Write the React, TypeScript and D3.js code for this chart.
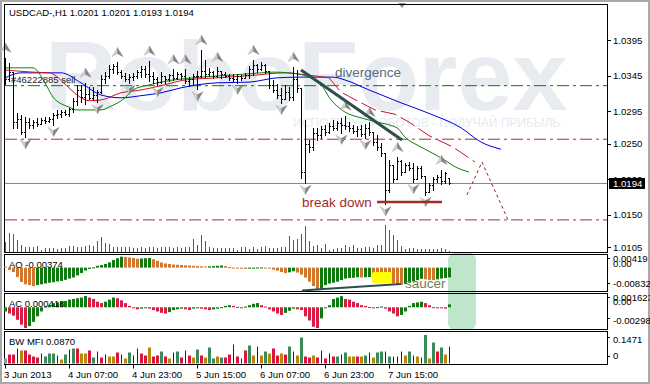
import React from "react";
import * as d3 from "d3";

const FONT = "'Liberation Sans', Arial, sans-serif";

// ---------- price bars (H1, USDCAD) ----------
const opens = [1.0360,1.0340,1.0350,1.0280,1.0285,1.0266,1.0280,1.0276,1.0280,1.0278,
1.0283,1.0281,1.0285,1.0290,1.0292,1.0294,1.0292,1.0298,1.0310,1.0325,
1.0315,1.0320,1.0314,1.0318,1.0322,1.0340,1.0345,1.0355,1.0358,1.0350,
1.0345,1.0340,1.0343,1.0345,1.0350,1.0355,1.0348,1.0345,1.0340,1.0336,
1.0345,1.0340,1.0346,1.0342,1.0348,1.0345,1.0338,1.0340,1.0345,1.0345,
1.0352,1.0348,1.0350,1.0345,1.0352,1.0348,1.0345,1.0342,1.0340,1.0344,
1.0342,1.0346,1.0355,1.0360,1.0355,1.0360,1.0352,1.0332,1.0325,1.0318,
1.0312,1.0322,1.0315,1.0340,1.0328,1.0210,1.0250,1.0245,1.0265,1.0262,
1.0270,1.0266,1.0275,1.0272,1.0279,1.0276,1.0274,1.0272,1.0268,1.0270,
1.0264,1.0272,1.0266,1.0252,1.0245,1.0236,1.0185,1.0220,1.0200,1.0225,
1.0210,1.0220,1.0215,1.0200,1.0215,1.0205,1.0182,1.0192,1.0200,1.0203,
1.0198,1.0201];
const highs = [1.0370,1.0363,1.0350,1.0293,1.0290,1.0287,1.0286,1.0283,1.0286,1.0286,
1.0287,1.0287,1.0293,1.0297,1.0297,1.0297,1.0300,1.0314,1.0332,1.0332,
1.0335,1.0329,1.0329,1.0325,1.0346,1.0350,1.0360,1.0361,1.0364,1.0353,
1.0349,1.0347,1.0349,1.0353,1.0358,1.0358,1.0366,1.0350,1.0343,1.0350,
1.0345,1.0348,1.0354,1.0350,1.0349,1.0354,1.0343,1.0347,1.0352,1.0381,
1.0367,1.0356,1.0352,1.0357,1.0352,1.0350,1.0347,1.0347,1.0347,1.0346,
1.0349,1.0359,1.0367,1.0362,1.0364,1.0361,1.0352,1.0339,1.0333,1.0328,
1.0332,1.0329,1.0357,1.0353,1.0328,1.0283,1.0255,1.0272,1.0272,1.0275,
1.0276,1.0279,1.0283,1.0282,1.0286,1.0289,1.0280,1.0276,1.0275,1.0276,
1.0277,1.0280,1.0266,1.0262,1.0251,1.0236,1.0227,1.0220,1.0231,1.0227,
1.0223,1.0224,1.0223,1.0219,1.0219,1.0205,1.0195,1.0203,1.0206,1.0213,
1.0210,1.0201];
const lows = [1.0333,1.0338,1.0272,1.0272,1.0263,1.0259,1.0272,1.0272,1.0275,1.0277,
1.0279,1.0280,1.0276,1.0286,1.0287,1.0290,1.0289,1.0294,1.0304,1.0308,
1.0305,1.0312,1.0311,1.0308,1.0321,1.0335,1.0342,1.0349,1.0347,1.0342,
1.0338,1.0335,1.0339,1.0342,1.0343,1.0343,1.0338,1.0335,1.0332,1.0335,
1.0335,1.0338,1.0339,1.0340,1.0340,1.0335,1.0330,1.0334,1.0326,1.0343,
1.0343,1.0345,1.0342,1.0343,1.0342,1.0343,1.0339,1.0337,1.0335,1.0339,
1.0342,1.0342,1.0346,1.0350,1.0353,1.0349,1.0328,1.0322,1.0314,1.0307,
1.0312,1.0311,1.0311,1.0322,1.0202,1.0195,1.0238,1.0241,1.0255,1.0258,
1.0262,1.0265,1.0269,1.0269,1.0265,1.0270,1.0268,1.0265,1.0261,1.0261,
1.0258,1.0262,1.0248,1.0241,1.0233,1.0165,1.0182,1.0196,1.0200,1.0206,
1.0210,1.0213,1.0196,1.0200,1.0202,1.0178,1.0182,1.0185,1.0196,1.0193,
1.0195,1.0193];
const closes = [1.0340,1.0350,1.0280,1.0285,1.0266,1.0280,1.0276,1.0280,1.0278,1.0283,
1.0281,1.0285,1.0290,1.0292,1.0294,1.0292,1.0298,1.0310,1.0325,1.0315,
1.0320,1.0314,1.0318,1.0322,1.0340,1.0345,1.0355,1.0358,1.0350,1.0345,
1.0340,1.0343,1.0345,1.0350,1.0355,1.0348,1.0345,1.0340,1.0336,1.0345,
1.0340,1.0346,1.0342,1.0348,1.0345,1.0338,1.0340,1.0345,1.0345,1.0352,
1.0348,1.0350,1.0345,1.0352,1.0348,1.0345,1.0342,1.0340,1.0344,1.0342,
1.0346,1.0355,1.0360,1.0355,1.0360,1.0352,1.0332,1.0325,1.0318,1.0312,
1.0322,1.0315,1.0340,1.0328,1.0210,1.0250,1.0245,1.0265,1.0262,1.0270,
1.0266,1.0275,1.0272,1.0279,1.0276,1.0274,1.0272,1.0268,1.0270,1.0264,
1.0272,1.0266,1.0252,1.0245,1.0236,1.0185,1.0220,1.0200,1.0225,1.0210,
1.0220,1.0215,1.0200,1.0215,1.0205,1.0182,1.0192,1.0200,1.0203,1.0198,
1.0208,1.0194];
const volumes = [400,760,720,480,280,200,200,200,240,80,
160,160,160,120,160,160,240,240,200,200,
240,280,240,440,600,360,320,200,200,200,
200,200,160,180,200,160,200,200,180,200,
220,200,160,200,160,200,200,520,280,680,
440,200,160,160,160,160,160,160,80,200,
200,120,200,120,200,240,160,160,160,200,
200,640,480,520,720,1040,440,240,280,160,
320,80,120,160,160,280,200,280,160,160,
200,200,160,280,280,1080,880,680,480,240,
120,160,160,120,120,120,120,120,120,160,
120,40];

// ---------- indicators ----------
const aoValues = [0.0004,-0.0009,-0.0017,-0.0036,-0.0055,-0.0064,-0.0067,-0.0071,-0.0067,-0.0064,
-0.0061,-0.0058,-0.0056,-0.0053,-0.0051,-0.0047,-0.0042,-0.0038,-0.0030,-0.0021,
-0.0011,-0.0005,0.0001,0.0007,0.0010,0.0014,0.0020,0.0029,0.0036,0.00419,
0.0041,0.0039,0.0037,0.0034,0.0035,0.0036,0.0037,0.0032,0.0026,0.0020,
0.0016,0.0014,0.0012,0.0011,0.0010,0.0009,0.0008,0.0007,0.0006,0.0005,
0.0004,0.0005,0.0006,0.0007,0.0008,0.0006,0.0002,-0.0001,-0.0003,-0.0004,
-0.0005,-0.0004,-0.0002,0.00005,0.0001,-0.0001,-0.0004,-0.0008,-0.0012,-0.0017,
-0.0021,-0.0018,-0.0014,-0.0019,-0.0027,-0.0038,-0.0054,-0.0071,-0.00832,-0.0081,
-0.0067,-0.0061,-0.0058,-0.0054,-0.0048,-0.0042,-0.0040,-0.0039,-0.0037,-0.0038,
-0.0037,-0.0036,-0.0037,-0.0039,-0.0041,-0.0045,-0.0052,-0.0060,-0.0064,-0.0066,
-0.0063,-0.0058,-0.0053,-0.0048,-0.0043,-0.0045,-0.0047,-0.0048,-0.0045,-0.0042,
-0.0040,-0.00374];
const acValues = [-0.0006,-0.0009,-0.0012,-0.0018,-0.0025,-0.00298,-0.0027,-0.0021,-0.0013,-0.0006,
0.0001,0.0003,0.0006,0.0007,0.0008,0.0009,0.0011,0.0012,0.0013,0.0014,
0.001623,0.0014,0.0012,0.0008,0.0006,0.0008,0.0011,0.0014,0.0013,0.0010,
0.0006,0.0002,-0.0001,-0.0003,-0.0002,-0.0001,-0.0002,-0.0004,-0.0006,-0.0008,
-0.0009,-0.0007,-0.0004,-0.0003,-0.0002,-0.0003,-0.0004,-0.0002,-0.0001,-0.0002,
-0.0003,-0.0004,-0.0003,-0.0002,0.00002,0.0002,0.0003,0.0002,0.00005,-0.0001,
0.0001,0.0003,0.0005,0.0006,0.0003,0.0001,-0.0003,-0.0006,-0.0009,-0.0011,
-0.0008,-0.0005,-0.0002,-0.0003,-0.0004,-0.0013,-0.0019,-0.0028,-0.00298,-0.0016,
-0.0001,0.0003,0.0012,0.0014,0.0016,0.0012,0.0011,0.0008,0.0006,0.0003,
0.0002,0.00005,-0.0001,0.00002,0.0001,-0.0002,-0.0006,-0.0009,-0.0013,-0.0011,
-0.0006,0.0002,0.0006,0.0007,0.0008,0.0006,0.0003,0.00002,-0.0001,-0.00015,
-0.0002,0.000418];
const mfiValues = [0.0258,0.0464,0.0464,0.0774,0.0671,0.0671,0.0464,0.0361,0.0310,0.0516,
0.0361,0.0516,0.0516,0.0413,0.0206,0.0464,0.0722,0.0774,0.0774,0.0516,
0.0516,0.0671,0.0310,0.0619,0.0310,0.0464,0.0361,0.0361,0.0568,0.0464,
0.0258,0.0568,0.0413,0.0774,0.0516,0.0413,0.0826,0.0361,0.0413,0.0619,
0.0361,0.0258,0.0568,0.0619,0.0310,0.0671,0.0413,0.0310,0.0722,0.0413,
0.0310,0.0826,0.0258,0.0361,0.0310,0.0310,0.0464,0.0980,0.0361,0.0258,
0.0671,0.0929,0.0413,0.0877,0.0413,0.0619,0.0516,0.0774,0.0413,0.0516,
0.0464,0.0877,0.0619,0.0413,0.1342,0.0361,0.0310,0.0413,0.0310,0.0671,
0.0258,0.0516,0.0361,0.0361,0.0464,0.0568,0.0361,0.0361,0.0361,0.0361,
0.0413,0.0568,0.0310,0.0568,0.0619,0.0619,0.0361,0.0361,0.0361,0.0619,
0.0413,0.0619,0.0413,0.0361,0.0310,0.1471,0.0258,0.1084,0.0619,0.0826,
0.0464,0.0870];
// g = green, b = fade (brown), f = fake (blue), s = squat (pink), x = first bar
const mfiTypes = ("xssfbssssf" + "gggfbgfgsb" + "bsgfsfbbsf" + "bgffssbssg" + "sbfgsfsbgs" +
  "bggbgssfsf" + "sgbfbgbssb" + "sgfbgssbsf" + "sfsgfgbbsb" + "gfbggfgfff" + "bgfbfgbgsg" + "bf").split("");

// Alligator lines: [bar index, price]
const jawLine: [number, number][] = [[0,1.0342],[4,1.0349],[14,1.0349],[19,1.0335],[24,1.0318],[29,1.0314],[34,1.0317],[39,1.0321],[44,1.0328],[53,1.0335],[61,1.0336],[68,1.0342],[74,1.0343],[82,1.0343],[85,1.0339],[91,1.0325],[99,1.0307],[107,1.0290],[114,1.0272],[119,1.0252],[124,1.0242]];
const teethLine: [number, number][] = [[0,1.0353],[7,1.0350],[11,1.0349],[16,1.0328],[18,1.0318],[21,1.0310],[24,1.0311],[29,1.0321],[34,1.0325],[39,1.0331],[45,1.0339],[53,1.0342],[61,1.0345],[70,1.0349],[74,1.0347],[81,1.0342]];
const teethTail: [number, number][] = [[81,1.0342],[84,1.0322],[88,1.0310],[92.5,1.0297],[97.5,1.0291],[101,1.0280],[106,1.0261],[112,1.0245],[117.5,1.0224]];
const lipsLine: [number, number][] = [[0,1.0356],[7,1.0356],[10,1.0335],[12,1.0315],[16,1.0301],[18,1.0297],[24,1.0297],[26,1.0301],[30,1.0314],[32,1.0325],[36,1.0332],[39,1.0336],[49,1.0343],[57,1.0346],[64,1.0349],[67,1.0350],[71,1.0349],[76,1.0343],[79,1.0333],[81,1.0315],[85,1.0294],[89,1.0286],[93,1.0280],[98,1.0272],[100,1.0259],[104,1.0245],[109,1.0230],[113,1.0216],[116,1.0210]];

const fractalUp = [0,20,28,36,42,45,49,53,62,72,85,91,98,109];
const fractalDown = [5,12,23,31,38,48,58,69,75,84,90,95,102,105];

const priceTicks = [1.0395,1.0345,1.0295,1.0250,1.0200,1.0150,1.0105];
const timeTickBars = [0,16,32,48,64,80,96];
const timeTickLabels = ["3 Jun 2013","4 Jun 07:00","4 Jun 23:00","5 Jun 15:00","6 Jun 07:00","6 Jun 23:00","7 Jun 15:00"];
const aoAxisLabels = ["0.00419","0.00","-0.00832"];
const acAxisLabels = ["0.001623","0.00","-0.00298"];
const mfiAxisLabels = ["0.1471","0"];

const orderLevel = 1.0331;
const redLevels = [1.0256, 1.0143];
const lastPrice = 1.0194;
const trendLine: [number, number][] = [[74,1.0353],[99.25,1.0255]];
const projection: [number, number][] = [[115.5,1.0178],[119.25,1.0224],[125.75,1.0143]];
const breakLine: [number, number][] = [[93,1.0168],[109.25,1.0168]];
const saucerLine: [number, number][] = [[74.25,-0.00878],[78.75,-0.00832],[99,-0.00629]];
const saucerBox: [number, number][] = [[91.75,-0.00168],[96.75,-0.0059]];
const signalBox = [110.75, 117.75];

function Arrow({ cx, cy, up }: { cx: number; cy: number; up: boolean }) {
  const s = up ? 1 : -1;
  return (
    <g transform={`translate(${cx},${cy})`}>
      <path d={`M0,${-4.5 * s}L-5.5,${4.5 * s}L0,${1.5 * s}Z`} fill="#cfcfcf" stroke="#a4a4a4" strokeWidth={0.4} />
      <path d={`M0,${-4.5 * s}L5.5,${4.5 * s}L0,${1.5 * s}Z`} fill="#858585" stroke="#7a7a7a" strokeWidth={0.4} />
    </g>
  );
}

export default function App() {
  const x = d3.scaleLinear().domain([0, 150]).range([5, 605]);
  const yP = d3.scaleLinear().domain([1.0105, 1.0395]).range([247, 40]);
  const yVol = d3.scaleLinear().domain([0, 1100]).range([252, 224.5]);
  const yAO = d3.scaleLinear().domain([-0.00832, 0.00419]).range([289.3, 256.7]);
  const yAC = d3.scaleLinear().domain([-0.00298, 0.001623]).range([328, 296]);
  const yMFI = d3.scaleLinear().domain([0, 0.1471]).range([363.5, 335]);
  const cx = (i: number) => Math.round(x(i));

  const line = d3.line<[number, number]>().x(d => x(d[0])).y(d => yP(d[1]));
  const smooth = d3.line<[number, number]>().x(d => x(d[0])).y(d => yP(d[1])).curve(d3.curveMonotoneX);
  const aoLine = d3.line<[number, number]>().x(d => x(d[0])).y(d => yAO(d[1]));

  let ohlc = "";
  opens.forEach((o, i) => {
    const c = cx(i);
    const yh = Math.round(yP(highs[i]));
    const yl = Math.round(yP(lows[i]));
    ohlc += `M${c + 0.5},${yh}V${yl + 1}M${c - 1},${Math.round(yP(o)) + 0.5}H${c + 0.5}M${c + 0.5},${Math.round(yP(closes[i])) + 0.5}H${c + 2}`;
  });
  let vol = "";
  volumes.forEach((v, i) => {
    const c = cx(i);
    vol += `M${c + 0.5},252V${Math.round(yVol(v))}`;
  });

  const mfiColor: Record<string, string> = { g: "#3b8a5a", b: "#b8860b", f: "#14148c", s: "#dc143c", x: "#8a96a6" };

  const ly = yP(lastPrice);
  const dashDot = "12 4 3 4";
  const xr = 607;

  return (
    <svg width={650} height={384} style={{ position: "absolute", left: 0, top: 0, background: "#fff" }} fontFamily={FONT}>
      <rect x={0} y={0} width={650} height={384} fill="#fff" />
      <rect x={1} y={1} width={648} height={382} fill="none" stroke="#a8a8a8" strokeWidth={2} />
      <defs>
        <clipPath id="mainClip"><rect x={5} y={5} width={602} height={247} /></clipPath>
      </defs>

      {/* watermark */}
      <g clipPath="url(#mainClip)">
        <text x={45} y={110} fontSize={99} fontWeight="bold" fill="#e8ecf1" fontFamily={FONT}>RoboForex</text>
        <text x={293} y={127} fontSize={12} fill="#e6eaef" fontFamily={FONT}>ИСПОЛЬЗУЙ РОБОТОВ - ПОЛУЧАЙ ПРИБЫЛЬ</text>
      </g>

      {/* horizontal levels */}
      <line x1={5} x2={xr} y1={yP(orderLevel)} y2={yP(orderLevel)} stroke="#008000" strokeDasharray={dashDot} />
      {redLevels.map((v, k) => (
        <line key={k} x1={5} x2={xr} y1={yP(v)} y2={yP(v)} stroke="#a8322d" strokeDasharray={dashDot} />
      ))}
      <line x1={5} x2={xr} y1={ly} y2={ly} stroke="#7a8a9c" strokeWidth={1} />

      {/* volumes */}
      <path d={vol} stroke="#287a28" strokeWidth={1} fill="none" shapeRendering="crispEdges" />

      {/* alligator */}
      <path d={smooth(jawLine) || ""} fill="none" stroke="#0000e0" strokeWidth={1} />
      <path d={smooth(teethLine) || ""} fill="none" stroke="#d01030" strokeWidth={1} />
      <path d={line(teethTail) || ""} fill="none" stroke="#d01030" strokeWidth={1} strokeDasharray="16 5" />
      <path d={smooth(lipsLine) || ""} fill="none" stroke="#128012" strokeWidth={1} />

      {/* bars */}
      <path d={ohlc} stroke="#000" strokeWidth={1} fill="none" shapeRendering="crispEdges" />

      {/* fractals */}
      {fractalUp.map(i => <Arrow key={"u" + i} cx={cx(i) + 0.5} cy={yP(highs[i]) - 10} up={true} />)}
      {fractalDown.map(i => <Arrow key={"d" + i} cx={cx(i) + 0.5} cy={yP(lows[i]) + 7} up={false} />)}

      {/* annotations */}
      <path d={line(trendLine) || ""} stroke="#2f4f4f" strokeWidth={3} fill="none" />
      <path d={line(breakLine) || ""} stroke="#a52a2a" strokeWidth={2.5} fill="none" />
      <path d={line(projection) || ""} stroke="#9b1c1c" strokeWidth={1} strokeDasharray="3 3" fill="none" />
      <text x={335} y={77} fontSize={13.5} fill="#536b80">divergence</text>
      <text x={302} y={207} fontSize={13.5} fill="#a52a2a">break down</text>
      <text x={9} y={16} fontSize={9.5} fill="#000">USDCAD-,H1  1.0201 1.0201 1.0193 1.0194</text>
      <text x={11} y={83} fontSize={9.5} fill="#222">#46222885 sell</text>
      <path d="M398,3L406,3L402,8Z" fill="#8896a4" />

      {/* main frame & price axis */}
      <rect x={4.5} y={4.5} width={603} height={248} fill="none" stroke="#000" />
      {priceTicks.map(v => (
        <g key={v}>
          <line x1={607} x2={611} y1={Math.round(yP(v)) + 0.5} y2={Math.round(yP(v)) + 0.5} stroke="#000" />
          <text x={613} y={yP(v) + 3.5} fontSize={9.6} fill="#000">{v.toFixed(4)}</text>
        </g>
      ))}
      <rect x={609} y={ly - 5.5} width={36} height={11} fill="#000" />
      <text x={613} y={ly + 3.5} fontSize={9.6} fill="#fff">{lastPrice.toFixed(4)}</text>

      {/* signal highlight */}
      <rect x={x(signalBox[0])} y={253} width={x(signalBox[1]) - x(signalBox[0])} height={77} rx={7} fill="#bfe6cb" />

      {/* AO panel */}
      <rect x={4.5} y={254.5} width={603} height={37} fill="none" stroke="#000" />
      {aoValues.map((v, i) => {
        const y0 = yAO(0), y1 = yAO(v);
        const up = i > 0 && v > aoValues[i - 1];
        return <rect key={i} x={cx(i) - 1} y={Math.min(y0, y1)} width={3} height={Math.max(1, Math.abs(y1 - y0))} fill={up ? "#0f7a0f" : "#d2782e"} />;
      })}
      <rect x={x(saucerBox[0][0])} y={yAO(saucerBox[0][1])} width={x(saucerBox[1][0]) - x(saucerBox[0][0])} height={yAO(saucerBox[1][1]) - yAO(saucerBox[0][1])} rx={2} fill="#ffff00" />
      <path d={aoLine(saucerLine) || ""} stroke="#2f4f4f" strokeWidth={2} fill="none" />
      <text x={405} y={288} fontSize={13.5} fill="#77775a">saucer</text>
      <text x={9} y={268} fontSize={9.5} fill="#000">AO -0.00374</text>

      {/* AC panel */}
      <rect x={4.5} y={293.5} width={603} height={36} fill="none" stroke="#000" />
      {acValues.map((v, i) => {
        const y0 = yAC(0), y1 = yAC(v);
        const up = i === 0 || v > acValues[i - 1];
        return <rect key={i} x={cx(i) - 1} y={Math.min(y0, y1)} width={3} height={Math.max(1, Math.abs(y1 - y0))} fill={up ? "#0f7a0f" : "#d81c45"} />;
      })}
      <text x={9} y={306.5} fontSize={9.5} fill="#000">AC 0.000418</text>

      {/* BW MFI panel */}
      <rect x={4.5} y={331.5} width={603} height={33} fill="none" stroke="#000" />
      {mfiValues.map((v, i) => {
        const t = mfiTypes[i];
        const y1 = yMFI(v), y0 = yMFI(0);
        if (t === "f") return <rect key={i} x={cx(i)} y={y1} width={1} height={y0 - y1} fill={mfiColor.f} />;
        return <rect key={i} x={cx(i) - 1} y={y1} width={3} height={y0 - y1} fill={mfiColor[t]} />;
      })}
      <text x={9} y={345} fontSize={9.5} fill="#000">BW MFI 0.0870</text>

      {/* sub-panel axis labels */}
      {[262, 266.5, 286.5].map((yy, k) => (
        <text key={"ao" + k} x={613} y={yy} fontSize={9.6} fill="#000">{aoAxisLabels[k]}</text>
      ))}
      {[300.5, 304.5, 323.5].map((yy, k) => (
        <text key={"ac" + k} x={613} y={yy} fontSize={9.6} fill="#000">{acAxisLabels[k]}</text>
      ))}
      {[342.5, 359].map((yy, k) => (
        <text key={"mf" + k} x={613} y={yy} fontSize={9.6} fill="#000">{mfiAxisLabels[k]}</text>
      ))}
      {[258.5, 283.5, 297.5, 318.5, 337.5, 356.5].map((yy, k) => (
        <line key={"st" + k} x1={607} x2={610} y1={yy} y2={yy} stroke="#000" />
      ))}

      {/* time axis */}
      {timeTickBars.map((b, k) => (
        <g key={b}>
          <line x1={cx(b) + 0.5} x2={cx(b) + 0.5} y1={364.5} y2={368.5} stroke="#000" />
          <text x={cx(b) - 1} y={377.5} fontSize={9.6} fill="#000">{timeTickLabels[k]}</text>
        </g>
      ))}
    </svg>
  );
}
